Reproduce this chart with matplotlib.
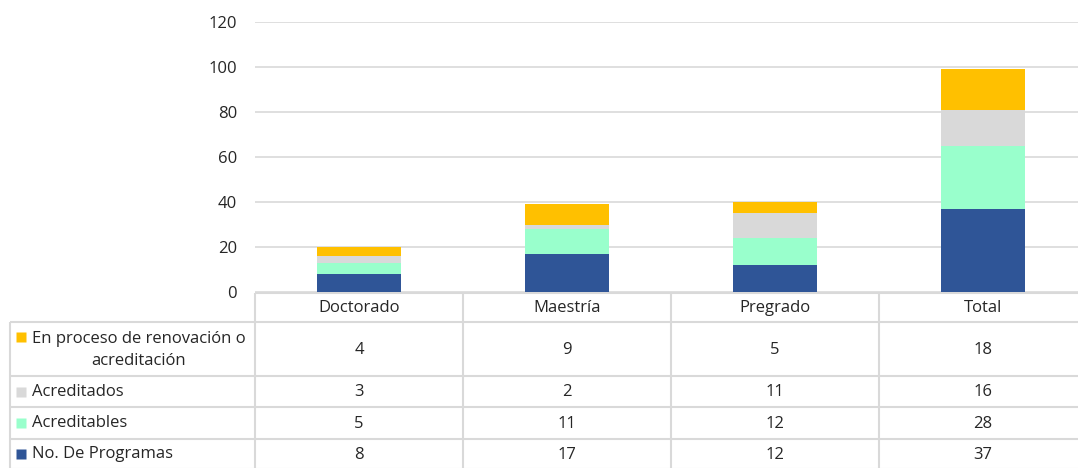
import matplotlib.pyplot as plt

plt.rcParams['font.family'] = ['Open Sans', 'DejaVu Sans']

categories = ['Doctorado', 'Maestría', 'Pregrado', 'Total']
programas = [8, 17, 12, 37]
acreditables = [5, 11, 12, 28]
acreditados = [3, 2, 11, 16]
en_proceso = [4, 9, 5, 18]

series_names = ['No. De Programas', 'Acreditables', 'Acreditados',
                'En proceso de renovación o\nacreditación']
series_values = [programas, acreditables, acreditados, en_proceso]
colors = ['#2F5597', '#99FFCC', '#D9D9D9', '#FFC000']
y_ticks = [0, 20, 40, 60, 80, 100, 120]

W, H = 1078, 468
text_color = '#262626'
grid_color = '#D9D9D9'

fig = plt.figure(figsize=(W / 100, H / 100), dpi=100)

# chart area (pixel layout)
ax_left, ax_right, ax_top, ax_bottom = 255, 1087, 22, 292
ax = fig.add_axes([ax_left / W, (H - ax_bottom) / H,
                   (ax_right - ax_left) / W, (ax_bottom - ax_top) / H])

x = list(range(len(categories)))
bottom = [0] * len(categories)
for vals, c in zip(series_values, colors):
    ax.bar(x, vals, width=0.4, bottom=bottom, color=c, zorder=3)
    bottom = [b + v for b, v in zip(bottom, vals)]

ax.set_xlim(-0.5, len(categories) - 0.5)
ax.set_ylim(0, 120)
ax.set_yticks(y_ticks)
ax.set_xticks([])
ax.yaxis.grid(True, color=grid_color, lw=1.2, zorder=0)
for s in ax.spines.values():
    s.set_visible(False)
ax.tick_params(axis='y', length=0, pad=13, labelsize=12, labelcolor=text_color)

# data table underneath, drawn in pixel coordinates
tax = fig.add_axes([0, 0, 1, 1], zorder=-1)
tax.set_xlim(0, W)
tax.set_ylim(H, 0)
tax.axis('off')

col_w = (ax_right - ax_left) / len(categories)
col_edges = [ax_left + i * col_w for i in range(len(categories) + 1)]
label_left = 10
row_edges = [293, 322, 376, 407, 439, 469]
lw = 1.5

tax.hlines(row_edges[0], ax_left, ax_right, color=grid_color, lw=lw)
tax.hlines(row_edges[1:], label_left, ax_right, color=grid_color, lw=lw)
tax.vlines(col_edges, row_edges[0], row_edges[-1], color=grid_color, lw=lw)
tax.vlines(label_left, row_edges[1], row_edges[-1], color=grid_color, lw=lw)

head_y = (row_edges[0] + row_edges[1]) / 2
for i, cat in enumerate(categories):
    cx = (col_edges[i] + col_edges[i + 1]) / 2
    tax.text(cx, head_y, cat, ha='center', va='center', fontsize=12,
             color=text_color)

# table rows go top to bottom in reverse stacking order
rows = list(zip(series_names, series_values, colors))[::-1]
for r, (name, vals, c) in enumerate(rows):
    y0, y1 = row_edges[r + 1], row_edges[r + 2]
    cy = (y0 + y1) / 2
    if '\n' in name:
        tax.plot(21, y0 + 15, marker='s', ms=7.5, color=c, mec='none')
        tax.text(32, cy + 1, name, ha='left', va='center', fontsize=12,
                 color=text_color, multialignment='center', linespacing=1.45)
    else:
        tax.plot(21, cy, marker='s', ms=7.5, color=c, mec='none')
        tax.text(32, cy, name, ha='left', va='center', fontsize=12,
                 color=text_color)
    for i, v in enumerate(vals):
        cx = (col_edges[i] + col_edges[i + 1]) / 2
        tax.text(cx, cy + 1, str(v), ha='center', va='center', fontsize=12,
                 color=text_color)

fig.savefig('out.png', dpi=100)
